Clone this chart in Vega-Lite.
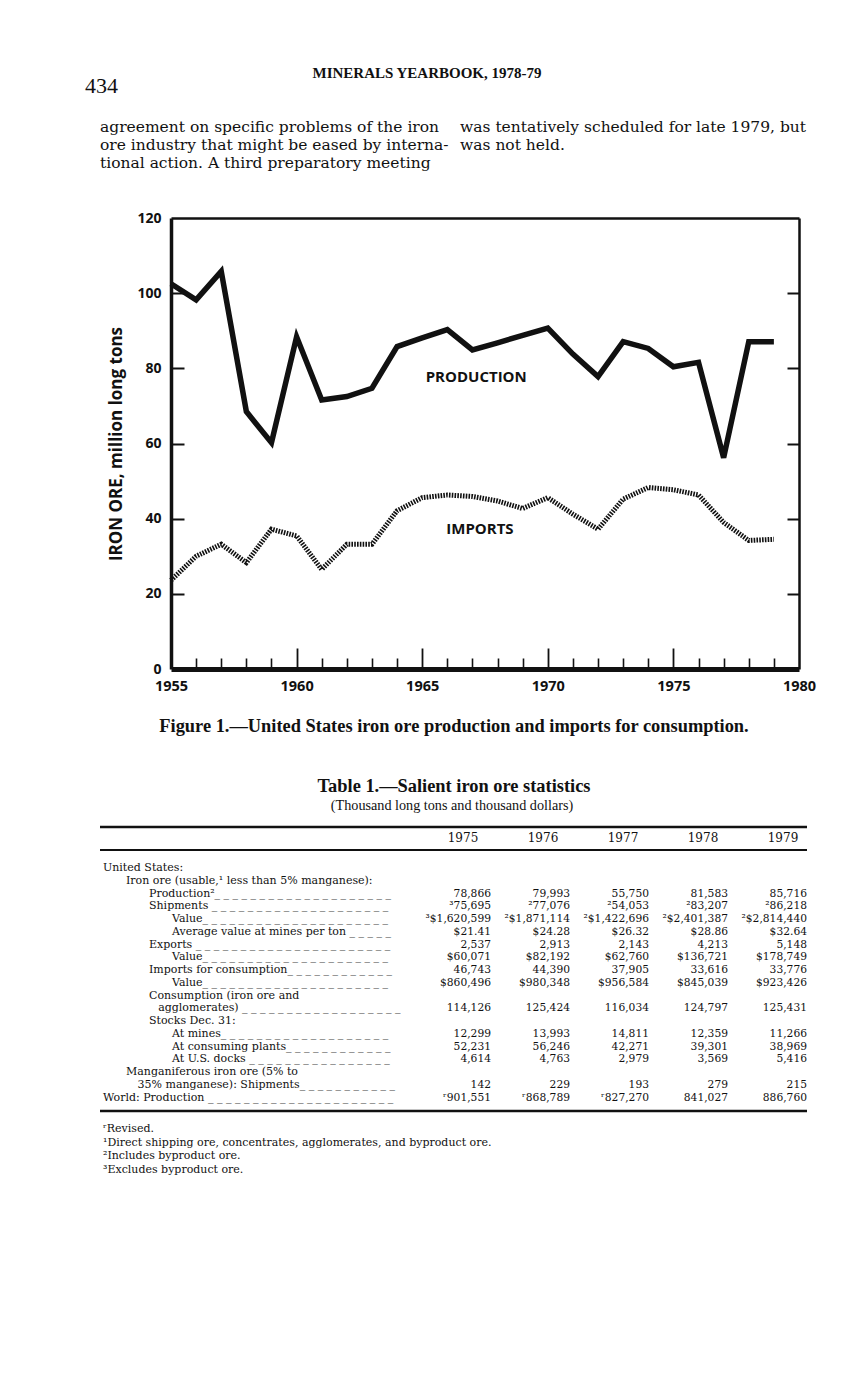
{
  "$schema": "https://vega.github.io/schema/vega-lite/v6.json",
  "width": 868,
  "height": 1379,
  "autosize": {"type": "none"},
  "padding": 0,
  "background": "white",
  "config": {"view": {"stroke": null}, "text": {"color": "#111"}},
  "datasets": {
    "ore": [
      {"year": 1955, "production": 102.5, "imports": 23.6},
      {"year": 1956, "production": 98.2, "imports": 30.0},
      {"year": 1957, "production": 105.8, "imports": 33.2},
      {"year": 1958, "production": 68.5, "imports": 28.3},
      {"year": 1959, "production": 60.2, "imports": 37.2},
      {"year": 1960, "production": 88.4, "imports": 35.4},
      {"year": 1961, "production": 71.6, "imports": 26.5},
      {"year": 1962, "production": 72.5, "imports": 33.2},
      {"year": 1963, "production": 74.7, "imports": 33.2},
      {"year": 1964, "production": 85.8, "imports": 42.1},
      {"year": 1965, "production": 88.1, "imports": 45.6},
      {"year": 1966, "production": 90.3, "imports": 46.3},
      {"year": 1967, "production": 84.9, "imports": 45.9},
      {"year": 1968, "production": 86.8, "imports": 44.7},
      {"year": 1969, "production": 88.8, "imports": 42.7},
      {"year": 1970, "production": 90.7, "imports": 45.6},
      {"year": 1971, "production": 83.8, "imports": 41.2},
      {"year": 1972, "production": 77.8, "imports": 37.2},
      {"year": 1973, "production": 87.1, "imports": 45.2},
      {"year": 1974, "production": 85.3, "imports": 48.3},
      {"year": 1975, "production": 80.4, "imports": 47.7},
      {"year": 1976, "production": 81.6, "imports": 46.3},
      {"year": 1977, "production": 56.2, "imports": 39.0},
      {"year": 1978, "production": 87.1, "imports": 34.2},
      {"year": 1979, "production": 87.1, "imports": 34.5}
    ],
    "table": [
      {"row": 0, "indent": 0, "label": "United States:"},
      {"row": 1, "indent": 1, "label": "Iron ore (usable,¹ less than 5% manganese):"},
      {"row": 2, "indent": 2, "label": "Production²_ _ _ _ _ _ _ _ _ _ _ _ _ _ _ _ _ _ _ _", "1975": "78,866", "1976": "79,993", "1977": "55,750", "1978": "81,583", "1979": "85,716"},
      {"row": 3, "indent": 2, "label": "Shipments _ _ _ _ _ _ _ _ _ _ _ _ _ _ _ _ _ _ _ _", "1975": "³75,695", "1976": "²77,076", "1977": "²54,053", "1978": "²83,207", "1979": "²86,218"},
      {"row": 4, "indent": 3, "label": "Value_ _ _ _ _ _ _ _ _ _ _ _ _ _ _ _ _ _ _ _ _", "1975": "³$1,620,599", "1976": "²$1,871,114", "1977": "²$1,422,696", "1978": "²$2,401,387", "1979": "²$2,814,440"},
      {"row": 5, "indent": 3, "label": "Average value at mines per ton _ _ _ _ _", "1975": "$21.41", "1976": "$24.28", "1977": "$26.32", "1978": "$28.86", "1979": "$32.64"},
      {"row": 6, "indent": 2, "label": "Exports _ _ _ _ _ _ _ _ _ _ _ _ _ _ _ _ _ _ _ _ _ _", "1975": "2,537", "1976": "2,913", "1977": "2,143", "1978": "4,213", "1979": "5,148"},
      {"row": 7, "indent": 3, "label": "Value_ _ _ _ _ _ _ _ _ _ _ _ _ _ _ _ _ _ _ _ _", "1975": "$60,071", "1976": "$82,192", "1977": "$62,760", "1978": "$136,721", "1979": "$178,749"},
      {"row": 8, "indent": 2, "label": "Imports for consumption_ _ _ _ _ _ _ _ _ _ _ _", "1975": "46,743", "1976": "44,390", "1977": "37,905", "1978": "33,616", "1979": "33,776"},
      {"row": 9, "indent": 3, "label": "Value_ _ _ _ _ _ _ _ _ _ _ _ _ _ _ _ _ _ _ _ _", "1975": "$860,496", "1976": "$980,348", "1977": "$956,584", "1978": "$845,039", "1979": "$923,426"},
      {"row": 10, "indent": 2, "label": "Consumption (iron ore and"},
      {"row": 11, "indent": 2.4, "label": "agglomerates) _ _ _ _ _ _ _ _ _ _ _ _ _ _ _ _ _ _", "1975": "114,126", "1976": "125,424", "1977": "116,034", "1978": "124,797", "1979": "125,431"},
      {"row": 12, "indent": 2, "label": "Stocks Dec. 31:"},
      {"row": 13, "indent": 3, "label": "At mines_ _ _ _ _ _ _ _ _ _ _ _ _ _ _ _ _ _ _", "1975": "12,299", "1976": "13,993", "1977": "14,811", "1978": "12,359", "1979": "11,266"},
      {"row": 14, "indent": 3, "label": "At consuming plants_ _ _ _ _ _ _ _ _ _ _ _", "1975": "52,231", "1976": "56,246", "1977": "42,271", "1978": "39,301", "1979": "38,969"},
      {"row": 15, "indent": 3, "label": "At U.S. docks _ _ _ _ _ _ _ _ _ _ _ _ _ _ _ _", "1975": "4,614", "1976": "4,763", "1977": "2,979", "1978": "3,569", "1979": "5,416"},
      {"row": 16, "indent": 1, "label": "Manganiferous iron ore (5% to"},
      {"row": 17, "indent": 1.5, "label": "35% manganese): Shipments_ _ _ _ _ _ _ _ _ _ _", "1975": "142", "1976": "229", "1977": "193", "1978": "279", "1979": "215"},
      {"row": 18, "indent": 0, "label": "World: Production _ _ _ _ _ _ _ _ _ _ _ _ _ _ _ _ _ _ _ _ _", "1975": "ʳ901,551", "1976": "ʳ868,789", "1977": "ʳ827,270", "1978": "841,027", "1979": "886,760"}
    ],
    "years": [{"year": "1975"}, {"year": "1976"}, {"year": "1977"}, {"year": "1978"}, {"year": "1979"}],
    "footnotes": [
      {"n": 1, "text": "ʳRevised."},
      {"n": 2, "text": "¹Direct shipping ore, concentrates, agglomerates, and byproduct ore."},
      {"n": 3, "text": "²Includes byproduct ore."},
      {"n": 4, "text": "³Excludes byproduct ore."}
    ],
    "paragraph": [
      {"col": "left", "line": 1, "text": "agreement on specific problems of the iron"},
      {"col": "left", "line": 2, "text": "ore industry that might be eased by interna-"},
      {"col": "left", "line": 3, "text": "tional action. A third preparatory meeting"},
      {"col": "right", "line": 1, "text": "was tentatively scheduled for late 1979, but"},
      {"col": "right", "line": 2, "text": "was not held."}
    ]
  },
  "layer": [
    {
      "data": {"name": "ore"},
      "mark": {"type": "line", "strokeWidth": 5.5, "color": "#111", "strokeJoin": "miter", "strokeCap": "butt"},
      "encoding": {
        "x": {"field": "year", "type": "quantitative",
          "scale": {"domain": [1955, 1980], "range": [171, 799], "nice": false, "zero": false},
          "axis": {"orient": "bottom", "offset": -710, "values": [1955, 1960, 1965, 1970, 1975, 1980], "format": "d", "ticks": false, "grid": false, "title": null,
            "domainWidth": 5, "domainColor": "#111", "labelColor": "#111", "labelFont": "Open Sans", "labelFontWeight": "bold", "labelFontSize": 14.5, "labelPadding": 10, "labelFlush": false, "labelOverlap": false}},
        "y": {"field": "production", "type": "quantitative",
          "scale": {"domain": [0, 120], "range": [669, 218], "nice": false, "zero": false},
          "axis": {"orient": "left", "offset": -171, "values": [0, 20, 40, 60, 80, 100, 120], "ticks": false, "grid": false,
            "domainWidth": 3.5, "domainColor": "#111", "labelColor": "#111", "labelFont": "Open Sans", "labelFontWeight": "bold", "labelFontSize": 14, "labelPadding": 10, "labelFlush": false, "labelOverlap": false,
            "title": "IRON ORE, million long tons", "titleFont": "Open Sans", "titleFontWeight": "bold", "titleFontSize": 17, "titleColor": "#111", "titlePadding": 11}}
      }
    },
    {
      "data": {"name": "ore"},
      "mark": {"type": "line", "strokeWidth": 5, "color": "#111", "strokeDash": [1.6, 1.2], "strokeJoin": "miter"},
      "encoding": {
        "x": {"field": "year", "type": "quantitative",
          "scale": {"domain": [1955, 1980], "range": [171, 799], "nice": false, "zero": false},
          "axis": {"orient": "top", "offset": -669, "values": [1956, 1957, 1958, 1959, 1961, 1962, 1963, 1964, 1966, 1967, 1968, 1969, 1971, 1972, 1973, 1974, 1976, 1977, 1978, 1979],
            "labels": false, "domain": false, "grid": false, "title": null, "tickSize": 11, "tickWidth": 1.6, "tickColor": "#111"}},
        "y": {"field": "imports", "type": "quantitative",
          "scale": {"domain": [0, 120], "range": [669, 218], "nice": false, "zero": false},
          "axis": {"orient": "right", "offset": -697, "values": [20, 40, 60, 80, 100], "labels": false, "domain": false, "grid": false, "title": null, "tickSize": 13, "tickWidth": 2, "tickColor": "#111"}}
      }
    },
    {
      "data": {"values": [{"label": "PRODUCTION", "year": 1967.15, "value": 77.7}]},
      "mark": {"type": "text", "font": "Open Sans", "fontWeight": "bold", "fontSize": 15, "align": "center", "baseline": "middle"},
      "encoding": {
        "text": {"field": "label"},
        "x": {"field": "year", "type": "quantitative",
          "scale": {"domain": [1955, 1980], "range": [171, 799], "nice": false, "zero": false},
          "axis": {"orient": "top", "offset": -218, "labels": false, "ticks": false, "grid": false, "title": null, "domainWidth": 2.5, "domainColor": "#111"}},
        "y": {"field": "value", "type": "quantitative",
          "scale": {"domain": [0, 120], "range": [669, 218], "nice": false, "zero": false},
          "axis": {"orient": "left", "offset": -799, "values": [20, 40, 60, 80, 100], "labels": false, "grid": false, "title": null, "tickSize": 12, "tickWidth": 2, "tickColor": "#111", "domainWidth": 2.5, "domainColor": "#111"}}
      }
    },
    {
      "data": {"values": [{"label": "IMPORTS", "year": 1967.3, "value": 37.2}]},
      "mark": {"type": "text", "font": "Open Sans", "fontWeight": "bold", "fontSize": 15, "align": "center", "baseline": "middle"},
      "encoding": {
        "text": {"field": "label"},
        "x": {"field": "year", "type": "quantitative",
          "scale": {"domain": [1955, 1980], "range": [171, 799], "nice": false, "zero": false},
          "axis": {"orient": "top", "offset": -669, "values": [1960, 1965, 1970, 1975], "labels": false, "domain": false, "grid": false, "title": null, "tickSize": 21, "tickWidth": 1.8, "tickColor": "#111"}},
        "y": {"field": "value", "type": "quantitative",
          "scale": {"domain": [0, 120], "range": [669, 218], "nice": false, "zero": false}, "axis": null}
      }
    },
    {
      "data": {"values": [{"text": "434"}]},
      "mark": {"type": "text", "font": "Liberation Serif", "fontSize": 22, "align": "left", "baseline": "middle"},
      "encoding": {
        "text": {"field": "text"},
        "x": {"field": "text", "type": "nominal", "scale": {"type": "point", "range": [85, 85]}, "axis": null},
        "y": {"field": "text", "type": "nominal", "scale": {"type": "point", "range": [86, 86]}, "axis": null}
      }
    },
    {
      "data": {"values": [{"text": "MINERALS YEARBOOK, 1978-79"}]},
      "mark": {"type": "text", "font": "Liberation Serif", "fontWeight": "bold", "fontSize": 15, "align": "center", "baseline": "middle"},
      "encoding": {
        "text": {"field": "text"},
        "x": {"field": "text", "type": "nominal", "scale": {"type": "point", "range": [427, 427]}, "axis": null},
        "y": {"field": "text", "type": "nominal", "scale": {"type": "point", "range": [73, 73]}, "axis": null}
      }
    },
    {
      "data": {"name": "paragraph"},
      "mark": {"type": "text", "font": "DejaVu Serif", "fontSize": 15.5, "align": "left", "baseline": "middle"},
      "encoding": {
        "text": {"field": "text"},
        "x": {"field": "col", "type": "nominal", "scale": {"type": "point", "domain": ["left", "right"], "range": [100, 460], "padding": 0}, "axis": null},
        "y": {"field": "line", "type": "quantitative", "scale": {"domain": [1, 3], "range": [127, 163], "nice": false, "zero": false}, "axis": null}
      }
    },
    {
      "data": {"values": [{"text": "Figure 1.—United States iron ore production and imports for consumption."}]},
      "mark": {"type": "text", "font": "Liberation Serif", "fontWeight": "bold", "fontSize": 18.4, "align": "center", "baseline": "middle"},
      "encoding": {
        "text": {"field": "text"},
        "x": {"field": "text", "type": "nominal", "scale": {"type": "point", "range": [454, 454]}, "axis": null},
        "y": {"field": "text", "type": "nominal", "scale": {"type": "point", "range": [726, 726]}, "axis": null}
      }
    },
    {
      "data": {"values": [{"text": "Table 1.—Salient iron ore statistics"}]},
      "mark": {"type": "text", "font": "Liberation Serif", "fontWeight": "bold", "fontSize": 18.4, "align": "center", "baseline": "middle"},
      "encoding": {
        "text": {"field": "text"},
        "x": {"field": "text", "type": "nominal", "scale": {"type": "point", "range": [454, 454]}, "axis": null},
        "y": {"field": "text", "type": "nominal", "scale": {"type": "point", "range": [786, 786]}, "axis": null}
      }
    },
    {
      "data": {"values": [{"text": "(Thousand long tons and thousand dollars)"}]},
      "mark": {"type": "text", "font": "Liberation Serif", "fontSize": 14.2, "align": "center", "baseline": "middle"},
      "encoding": {
        "text": {"field": "text"},
        "x": {"field": "text", "type": "nominal", "scale": {"type": "point", "range": [452, 452]}, "axis": null},
        "y": {"field": "text", "type": "nominal", "scale": {"type": "point", "range": [806, 806]}, "axis": null}
      }
    },
    {
      "data": {"values": [{}]},
      "mark": {"type": "rule", "strokeWidth": 2.5, "color": "#111"},
      "encoding": {
        "x": {"datum": 0, "type": "quantitative", "scale": {"domain": [0, 1], "range": [100, 807], "nice": false, "zero": false}, "axis": null},
        "x2": {"datum": 1},
        "y": {"datum": -3.22, "type": "quantitative", "scale": {"domain": [0, 18], "range": [868, 1097.5], "nice": false, "zero": false}, "axis": null}
      }
    },
    {
      "data": {"values": [{}]},
      "mark": {"type": "rule", "strokeWidth": 1.8, "color": "#111"},
      "encoding": {
        "x": {"datum": 0, "type": "quantitative", "scale": {"domain": [0, 1], "range": [100, 807], "nice": false, "zero": false}, "axis": null},
        "x2": {"datum": 1},
        "y": {"datum": -1.41, "type": "quantitative", "scale": {"domain": [0, 18], "range": [868, 1097.5], "nice": false, "zero": false}, "axis": null}
      }
    },
    {
      "data": {"values": [{}]},
      "mark": {"type": "rule", "strokeWidth": 2.5, "color": "#111"},
      "encoding": {
        "x": {"datum": 0, "type": "quantitative", "scale": {"domain": [0, 1], "range": [100, 807], "nice": false, "zero": false}, "axis": null},
        "x2": {"datum": 1},
        "y": {"datum": 19.06, "type": "quantitative", "scale": {"domain": [0, 18], "range": [868, 1097.5], "nice": false, "zero": false}, "axis": null}
      }
    },
    {
      "data": {"name": "years"},
      "mark": {"type": "text", "font": "DejaVu Serif", "fontSize": 12, "align": "center", "baseline": "middle"},
      "encoding": {
        "text": {"field": "year"},
        "x": {"field": "year", "type": "nominal", "scale": {"type": "point", "domain": ["1975", "1976", "1977", "1978", "1979"], "range": [463, 783], "padding": 0}, "axis": null},
        "y": {"datum": -2.35, "type": "quantitative", "scale": {"domain": [0, 18], "range": [868, 1097.5], "nice": false, "zero": false}, "axis": null}
      }
    },
    {
      "data": {"name": "table"},
      "mark": {"type": "text", "font": "DejaVu Serif", "fontSize": 11, "align": "left", "baseline": "middle"},
      "encoding": {
        "text": {"field": "label"},
        "x": {"field": "indent", "type": "quantitative", "scale": {"domain": [0, 3], "range": [103, 172], "nice": false, "zero": false}, "axis": null},
        "y": {"field": "row", "type": "quantitative", "scale": {"domain": [0, 18], "range": [868, 1097.5], "nice": false, "zero": false}, "axis": null}
      }
    },
    {
      "data": {"name": "table"},
      "transform": [
        {"fold": ["1975", "1976", "1977", "1978", "1979"], "as": ["year", "value"]},
        {"filter": "isValid(datum.value)"}
      ],
      "mark": {"type": "text", "font": "DejaVu Serif", "fontSize": 10.7, "align": "right", "baseline": "middle"},
      "encoding": {
        "text": {"field": "value"},
        "x": {"field": "year", "type": "nominal", "scale": {"type": "point", "domain": ["1975", "1976", "1977", "1978", "1979"], "range": [491, 807], "padding": 0}, "axis": null},
        "y": {"field": "row", "type": "quantitative", "scale": {"domain": [0, 18], "range": [868, 1097.5], "nice": false, "zero": false}, "axis": null}
      }
    },
    {
      "data": {"name": "footnotes"},
      "mark": {"type": "text", "font": "DejaVu Serif", "fontSize": 11, "align": "left", "baseline": "middle"},
      "encoding": {
        "text": {"field": "text"},
        "x": {"field": "n", "type": "quantitative", "scale": {"domain": [1, 4], "range": [103, 103], "nice": false, "zero": false}, "axis": null},
        "y": {"field": "n", "type": "quantitative", "scale": {"domain": [1, 4], "range": [1129, 1170], "nice": false, "zero": false}, "axis": null}
      }
    }
  ],
  "resolve": {
    "scale": {"x": "independent", "y": "independent"},
    "axis": {"x": "independent", "y": "independent"}
  }
}
